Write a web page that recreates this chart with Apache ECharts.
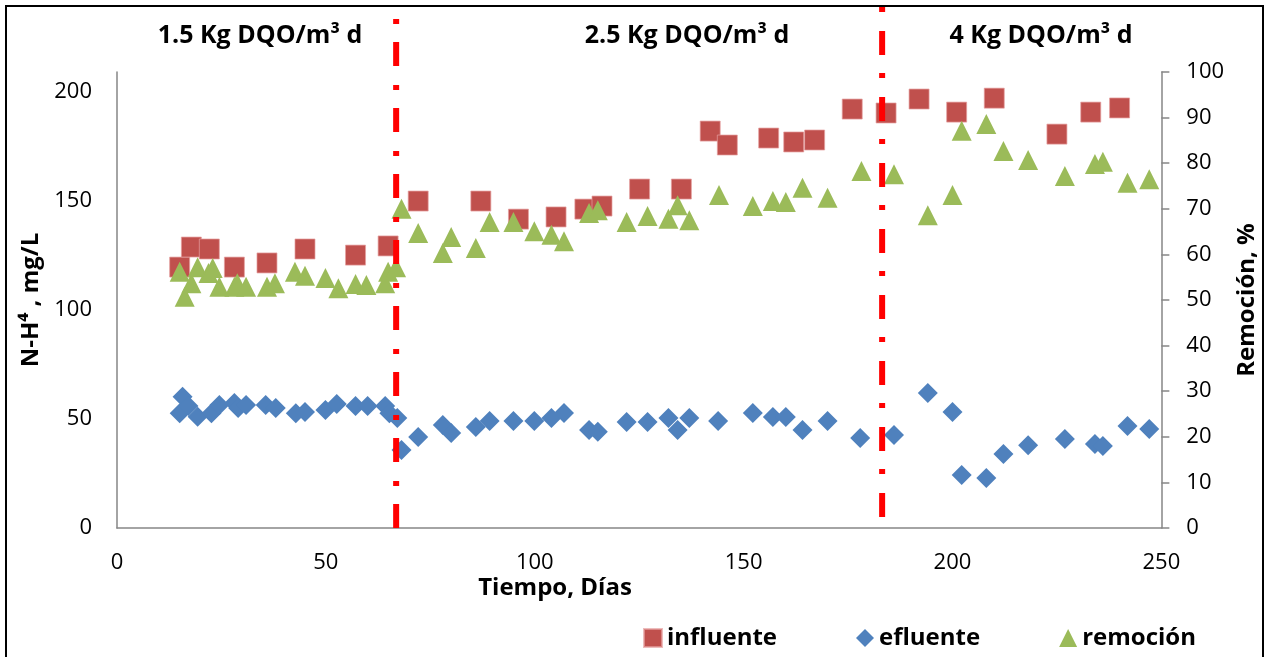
<!DOCTYPE html>
<html>
<head>
<meta charset="utf-8">
<script src="https://cdn.jsdelivr.net/npm/echarts@6/dist/echarts.min.js"></script>
<style>
  html, body { margin: 0; padding: 0; background: #fff; }
  #chart { width: 1267px; height: 657px; }
</style>
</head>
<body>
<div id="chart"></div>
<script>
// influente (mg/L, left axis)
var influenteDias = [15.0, 17.8, 22.1, 28.1, 35.9, 45.0, 57.1, 64.9, 72.1, 87.1, 96.1, 105.1, 112.0, 116.1, 125.1, 135.1, 142.0, 146.1, 156.0, 162.0, 167.0, 176.0, 184.1, 192.0, 201.0, 210.0, 225.0, 233.1, 240.0];
var influenteVal = [119.7, 128.9, 128.0, 119.7, 121.6, 128.0, 125.2, 129.4, 150.0, 150.0, 141.7, 142.7, 146.3, 147.7, 155.5, 155.5, 182.1, 175.7, 178.9, 177.1, 178.0, 192.2, 190.4, 196.8, 190.8, 197.2, 180.7, 190.8, 192.7];

// efluente (mg/L, left axis)
var efluenteDias = [15.0, 15.7, 17.1, 19.3, 22.6, 24.5, 28.1, 29.0, 30.9, 35.6, 38.0, 42.8, 45.0, 49.9, 52.6, 57.1, 60.0, 64.2, 65.2, 67.1, 68.1, 72.1, 78.0, 80.0, 85.9, 89.2, 94.9, 99.9, 104.0, 107.0, 113.0, 115.1, 122.0, 127.0, 132.0, 134.2, 137.0, 143.9, 152.2, 157.0, 160.1, 164.1, 170.1, 177.9, 186.0, 194.1, 200.0, 202.2, 208.1, 212.2, 218.1, 226.9, 234.1, 236.0, 241.9, 247.1];
var efluenteVal = [52.6, 60.2, 56.0, 51.0, 52.6, 56.4, 57.3, 55.0, 56.4, 56.4, 55.0, 52.6, 53.2, 54.1, 56.9, 56.0, 56.0, 56.0, 52.6, 50.5, 35.8, 41.8, 47.2, 43.6, 46.3, 49.1, 49.1, 49.1, 50.5, 52.8, 45.0, 44.1, 48.6, 48.6, 50.5, 45.0, 50.5, 49.1, 52.8, 50.9, 50.9, 45.0, 49.1, 41.3, 42.7, 61.9, 53.2, 24.3, 22.9, 33.9, 38.0, 40.8, 38.5, 37.6, 46.8, 45.4];

// remocion (%, right axis)
var remocionDias = [15.0, 16.2, 17.8, 19.3, 21.9, 22.9, 24.5, 28.1, 28.8, 30.9, 35.9, 37.8, 42.6, 45.0, 49.9, 53.0, 57.1, 59.7, 64.2, 64.9, 66.8, 68.1, 72.1, 78.0, 80.0, 85.9, 89.2, 94.9, 99.9, 104.0, 107.0, 113.0, 115.1, 122.0, 127.0, 132.0, 134.2, 137.0, 144.1, 152.2, 157.0, 160.1, 164.1, 170.1, 178.2, 186.0, 194.1, 200.0, 202.2, 208.1, 212.2, 218.1, 226.9, 234.1, 236.0, 241.9, 247.1];
var remocionVal = [56.2, 50.7, 53.7, 57.2, 55.9, 57.0, 52.9, 52.9, 53.7, 52.9, 52.9, 53.7, 56.2, 55.3, 54.8, 52.6, 53.5, 53.3, 53.7, 56.2, 57.2, 70.0, 64.7, 60.3, 63.8, 61.4, 67.1, 67.1, 65.1, 64.3, 62.9, 69.1, 69.7, 67.1, 68.4, 67.8, 70.8, 67.5, 73.0, 70.6, 71.7, 71.5, 74.6, 72.4, 78.3, 77.6, 68.6, 73.0, 87.1, 88.6, 82.7, 80.7, 77.2, 79.8, 80.3, 75.7, 76.5];

// cambios de carga (dias) y etiquetas de cada etapa
var cambiosDias = [66.4, 182.0];
var etapas = ['1.5 Kg DQO/m\u00b3 d', '2.5 Kg DQO/m\u00b3 d', '4 Kg DQO/m\u00b3 d'];
var series_names = ['influente', 'efluente', 'remoci\u00f3n'];

function pares(xs, ys) {
  return xs.map(function (x, i) { return [x, ys[i]]; });
}

var FONT = '"Open Sans", sans-serif';
var axisColor = '#868686';

var chartDom = document.getElementById('chart');
var myChart = echarts.init(chartDom, null, { renderer: 'canvas' });

var etapaX = [260, 687, 1041];
var graphics = [{
  type: 'rect',
  shape: { x: 6, y: 6, width: 1257, height: 700 },
  style: { fill: 'none', stroke: '#000', lineWidth: 2 },
  silent: true
}, {
  type: 'text',
  x: 555, y: 588,
  style: { text: 'Tiempo, D\u00edas', font: 'bold 24px ' + FONT, fill: '#000', align: 'center', verticalAlign: 'middle' }
}];
etapas.forEach(function (t, i) {
  graphics.push({
    type: 'text',
    x: etapaX[i], y: 36,
    style: { text: t, font: 'bold 25px ' + FONT, fill: '#000', align: 'center', verticalAlign: 'middle' }
  });
});

var option = {
  animation: false,
  backgroundColor: '#fff',
  textStyle: { fontFamily: FONT },
  graphic: graphics,
  legend: {
    data: series_names,
    left: 638,
    top: 621,
    itemWidth: 18,
    itemHeight: 18,
    itemGap: 79,
    textStyle: { fontFamily: FONT, fontSize: 24, fontWeight: 'bold', color: '#000' }
  },
  grid: [
    { left: 117, right: 99, top: 72, bottom: 129 },
    { left: 117, right: 99, top: 7, bottom: 129 }
  ],
  xAxis: [{
    type: 'value',
    gridIndex: 0,
    min: 0, max: 250, interval: 50,
    axisLine: { lineStyle: { color: axisColor, width: 1.5 } },
    axisTick: { show: false },
    splitLine: { show: false },
    axisLabel: { color: '#000', fontSize: 22, fontFamily: FONT, margin: 24 }
  }, {
    type: 'value',
    gridIndex: 1,
    min: 0, max: 250,
    show: false
  }],
  yAxis: [{
    type: 'value',
    gridIndex: 0,
    min: 0, max: 209.2, interval: 50,
    name: 'N-H\u2074 , mg/L',
    nameLocation: 'middle',
    nameGap: 68,
    nameTextStyle: { fontSize: 24, fontWeight: 'bold', color: '#000', fontFamily: FONT },
    axisLine: { show: true, lineStyle: { color: axisColor, width: 1.5 } },
    axisTick: { show: false },
    splitLine: { show: false },
    axisLabel: { color: '#000', fontSize: 22, fontFamily: FONT, margin: 25, showMaxLabel: false }
  }, {
    type: 'value',
    gridIndex: 0,
    position: 'right',
    min: 0, max: 100, interval: 10,
    name: 'Remoci\u00f3n, %',
    nameLocation: 'middle',
    nameGap: 62,
    nameTextStyle: { fontSize: 24, fontWeight: 'bold', color: '#000', fontFamily: FONT },
    axisLine: { show: true, lineStyle: { color: axisColor, width: 1.5 } },
    axisTick: { show: true, length: 8, lineStyle: { color: axisColor, width: 1.5 } },
    splitLine: { show: false },
    axisLabel: { color: '#000', fontSize: 22, fontFamily: FONT, margin: 25 }
  }, {
    type: 'value',
    gridIndex: 1,
    min: 0, max: 1,
    show: false
  }],
  series: [{
    name: series_names[0],
    type: 'scatter',
    xAxisIndex: 0, yAxisIndex: 0,
    symbol: 'rect',
    symbolSize: 20,
    itemStyle: { color: '#C0504D', opacity: 1, borderColor: 'rgba(230,160,160,0.7)', borderWidth: 1 },
    data: pares(influenteDias, influenteVal),
    z: 3
  }, {
    name: series_names[1],
    type: 'scatter',
    xAxisIndex: 0, yAxisIndex: 0,
    symbol: 'diamond',
    symbolSize: 20,
    itemStyle: { color: '#4F81BD', opacity: 1 },
    data: pares(efluenteDias, efluenteVal),
    z: 4
  }, {
    name: series_names[2],
    type: 'scatter',
    xAxisIndex: 0, yAxisIndex: 1,
    symbol: 'triangle',
    symbolSize: 20,
    itemStyle: { color: '#9BBB59', opacity: 1 },
    data: pares(remocionDias, remocionVal),
    z: 5
  }, {
    name: 'cambio1',
    type: 'line',
    xAxisIndex: 1, yAxisIndex: 2,
    symbol: 'none',
    silent: true,
    lineStyle: { color: '#FF0000', width: 6, type: [5, 18, 24, 19], cap: 'butt' },
    data: [[cambiosDias[0], 0.977], [cambiosDias[0], 0]],
    z: 6
  }, {
    name: 'cambio2',
    type: 'line',
    xAxisIndex: 1, yAxisIndex: 2,
    symbol: 'none',
    silent: true,
    lineStyle: { color: '#FF0000', width: 6, type: [5, 19, 24, 18], cap: 'butt' },
    data: [[cambiosDias[1], 1], [cambiosDias[1], 0.021]],
    z: 6
  }]
};

option && myChart.setOption(option);
</script>
</body>
</html>
